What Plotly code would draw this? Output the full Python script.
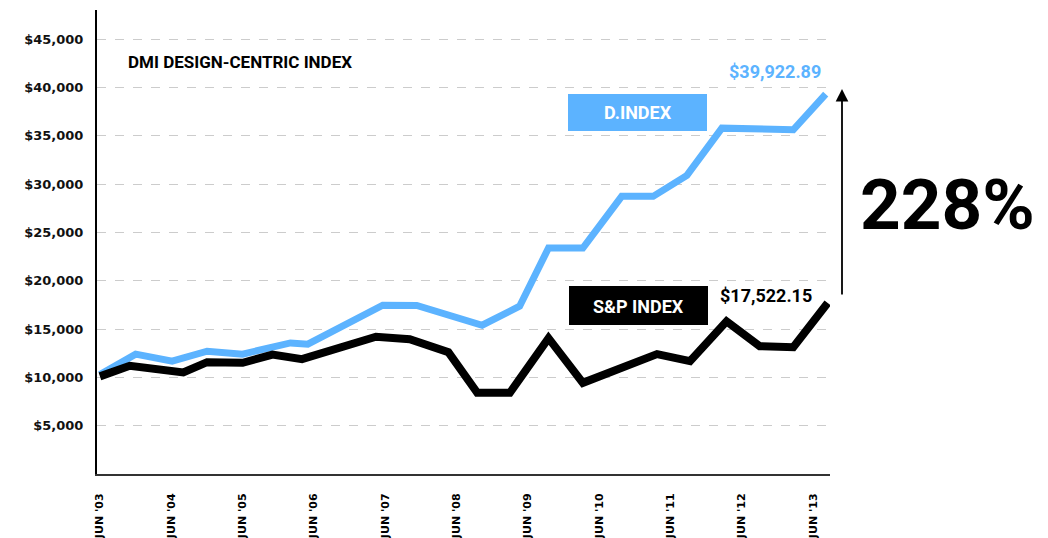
import plotly.graph_objects as go

# ---- data ----
dindex_dates = ["2003-06-01", "2003-12-01", "2004-06-05", "2004-12-01", "2005-06-01",
                "2006-02-01", "2006-05-01", "2007-05-20", "2007-11-10", "2008-10-10",
                "2009-04-20", "2009-09-15", "2010-03-10", "2010-09-25", "2011-03-05",
                "2011-08-25", "2012-02-20", "2013-02-20", "2013-08-05"]
dindex_values = [10300, 12400, 11670, 12700, 12400,
                 13560, 13430, 17460, 17430, 15390,
                 17360, 23380, 23380, 28720, 28720,
                 30890, 35780, 35610, 39300]

sp_dates = ["2003-06-01", "2003-11-01", "2004-08-01", "2004-12-01", "2005-06-01",
            "2005-11-01", "2006-04-01", "2007-04-15", "2007-10-05", "2008-04-20",
            "2008-09-15", "2009-03-01", "2009-09-15", "2010-03-10", "2011-03-25",
            "2011-09-10", "2012-03-15", "2012-09-01", "2013-02-20", "2013-08-15"]
sp_values = [10100, 11200, 10500, 11570, 11500,
             12350, 11880, 14200, 13950, 12600,
             8400, 8400, 14050, 9430, 12400,
             11670, 15800, 13220, 13120, 17700]

x_tick_vals = ["2003-06-01", "2004-06-01", "2005-06-01", "2006-06-01", "2007-06-01",
               "2008-06-01", "2009-06-01", "2010-06-01", "2011-06-01", "2012-06-01",
               "2013-06-01"]
x_tick_text = ["JUN '03", "JUN '04", "JUN '05", "JUN '06", "JUN '07", "JUN '08",
               "JUN '09", "JUN '10", "JUN '11", "JUN '12", "JUN '13"]
y_tick_vals = [5000, 10000, 15000, 20000, 25000, 30000, 35000, 40000, 45000]
y_tick_text = ["$5,000", "$10,000", "$15,000", "$20,000", "$25,000",
               "$30,000", "$35,000", "$40,000", "$45,000"]

title_text = "DMI DESIGN-CENTRIC INDEX"
dindex_label = "D.INDEX"
sp_label = "S&P INDEX"
dindex_end_label = "$39,922.89"
sp_end_label = "$17,522.15"
growth_label = "228%"

BLUE = "#5cb3ff"
COND = "Roboto, sans-serif"

fig = go.Figure()
fig.add_trace(go.Scatter(x=dindex_dates, y=dindex_values, mode="lines",
                         line=dict(color=BLUE, width=7), name="D.INDEX",
                         hoverinfo="skip"))
fig.add_trace(go.Scatter(x=sp_dates, y=sp_values, mode="lines",
                         line=dict(color="black", width=8), name="S&P INDEX",
                         hoverinfo="skip"))

fig.update_layout(
    width=1048, height=538,
    margin=dict(l=97, r=218, t=10, b=64, autoexpand=False),
    paper_bgcolor="white", plot_bgcolor="white",
    showlegend=False,
    xaxis=dict(
        type="date", range=["2003-05-17", "2013-08-27"], automargin=False,
        tickmode="array", tickvals=x_tick_vals, ticktext=x_tick_text,
        tickangle=-90, showgrid=False, zeroline=False,
        showline=True, linecolor="#333333", linewidth=2,
        ticks="", ticklabelstandoff=13,
        tickfont=dict(family="DejaVu Sans", size=11, color="black", weight="bold"),
    ),
    yaxis=dict(
        range=[0, 48000], tickmode="array", tickvals=y_tick_vals,
        ticktext=y_tick_text, automargin=False,
        showgrid=True, gridcolor="#cccccc", griddash="dash", gridwidth=1,
        zeroline=False, showline=True, linecolor="black", linewidth=2,
        ticks="", ticklabelstandoff=9,
        tickfont=dict(family="DejaVu Sans", size=13, color="#111111", weight="bold"),
    ),
)

def px_x(p):
    return (p - 97) / 733.0

def px_y(p):
    return (474 - p) / 464.0

shapes = [
    dict(type="rect", xref="paper", yref="paper",
         x0=px_x(568), x1=px_x(707), y0=px_y(131), y1=px_y(94),
         fillcolor=BLUE, line=dict(width=0), layer="above"),
    dict(type="rect", xref="paper", yref="paper",
         x0=px_x(569), x1=px_x(708), y0=px_y(325), y1=px_y(286),
         fillcolor="black", line=dict(width=0), layer="above"),
]
fig.update_layout(shapes=shapes)

annos = [
    dict(text=title_text, xref="paper", yref="paper", x=px_x(126), y=px_y(62),
         xanchor="left", yanchor="middle", showarrow=False,
         font=dict(family=COND, size=17, color="black", weight="bold")),
    dict(text=dindex_label, xref="paper", yref="paper", x=px_x(637.5), y=px_y(113),
         xanchor="center", yanchor="middle", showarrow=False,
         font=dict(family=COND, size=18, color="white", weight="bold")),
    dict(text=sp_label, xref="paper", yref="paper", x=px_x(638), y=px_y(306),
         xanchor="center", yanchor="middle", showarrow=False,
         font=dict(family=COND, size=18, color="white", weight="bold")),
    dict(text=dindex_end_label, xref="paper", yref="paper", x=px_x(775), y=px_y(72),
         xanchor="center", yanchor="middle", showarrow=False,
         font=dict(family=COND, size=18, color=BLUE, weight="bold")),
    dict(text=sp_end_label, xref="paper", yref="paper", x=px_x(766), y=px_y(295),
         xanchor="center", yanchor="middle", showarrow=False,
         font=dict(family=COND, size=18, color="black", weight="bold")),
    dict(text="", xref="paper", yref="paper", x=px_x(842), y=px_y(89),
         ax=0, ay=207, showarrow=True, arrowhead=2, arrowsize=1.4,
         arrowwidth=1.8, arrowcolor="black"),
    dict(text=growth_label, xref="paper", yref="paper", x=px_x(947), y=px_y(205),
         xanchor="center", yanchor="middle", showarrow=False,
         font=dict(family="Roboto", size=71, color="black", weight="bold")),
]
fig.update_layout(annotations=annos)

fig.write_html("out.html")
